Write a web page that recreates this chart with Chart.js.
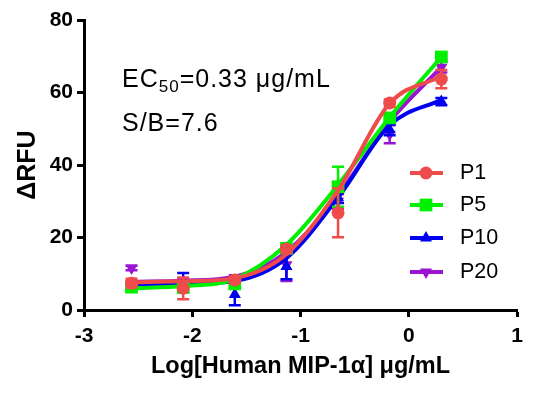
<!DOCTYPE html>
<html>
<head>
<meta charset="utf-8">
<script src="https://cdn.jsdelivr.net/npm/chart.js@4/dist/chart.umd.min.js"></script>
<style>
  html, body { margin: 0; background: #fff; }
  #wrap { width: 540px; height: 395px; }
</style>
</head>
<body>
<div id="wrap"><canvas id="chart" width="540" height="395"></canvas></div>
<script>
// log10 of the 3-fold dilution series (µg/mL), 2 µg/mL down
const logDose = [-2.561, -2.084, -1.607, -1.130, -0.653, -0.176, 0.301];

// measured means and error bars
const p1 = [7.4, 6.0, 8.3, 16.8, 26.8, 57.1, 63.7];
const p1Err = [1.2, 3.0, 0.8, 1.0, 6.7, 1.0, 2.5];
const p5 = [6.3, 6.2, 7.2, 17.0, 34.0, 53.0, 69.8];
const p5Err = [0.6, 1.0, 1.2, 1.0, 5.5, 1.0, 1.0];
const p10 = [7.2, 7.6, 4.3, 12.0, 31.0, 49.7, 57.5];
const p10Err = [0.6, 2.6, 3.0, 3.5, 1.5, 1.5, 1.0];
const p20 = [11.6, 7.6, 8.6, 12.5, 30.0, 48.5, 67.0];
const p20Err = [0.6, 1.0, 1.0, 4.5, 2.0, 2.5, 1.5];

// fitted curves at each dose
const fitP1 = [7.6, 7.9, 8.8, 15.4, 33.0, 57.0, 64.5];
const fitP5 = [6.0, 6.6, 8.6, 18.0, 34.5, 53.2, 69.8];
const fitP10 = [7.0, 7.2, 8.0, 14.3, 31.0, 51.0, 58.0];
const fitP20 = [7.8, 8.1, 9.2, 16.0, 31.7, 52.0, 67.0];

const seriesLabels = ["P1", "P5", "P10", "P20"];
const xTicks = [-3, -2, -1, 0, 1];
const yTicks = [0, 20, 40, 60, 80];

const styles = [
  { color: "#ef4b4b", pointStyle: "circle", radius: 6.5, rotation: 0 },
  { color: "#00f000", pointStyle: "rect", radius: 9, rotation: 0 },
  { color: "#0000f0", pointStyle: "triangle", radius: 7, rotation: 0 },
  { color: "#9a14d2", pointStyle: "triangle", radius: 7, rotation: 180 }
];

const allValues = [p1, p5, p10, p20];
const allErrors = [p1Err, p5Err, p10Err, p20Err];
const allFits = [fitP1, fitP5, fitP10, fitP20];

const datasets = [];
allValues.forEach((vals, i) => {
  datasets.push({
    label: seriesLabels[i] + " fit",
    type: "line",
    data: allFits[i].map((v, j) => ({ x: logDose[j], y: v })),
    borderColor: styles[i].color,
    borderWidth: 4,
    pointRadius: 0,
    cubicInterpolationMode: "monotone",
    fill: false,
    order: i * 2 + 1
  });
  datasets.push({
    label: seriesLabels[i],
    type: "scatter",
    data: vals.map((v, j) => ({ x: logDose[j], y: v })),
    errors: allErrors[i],
    borderColor: styles[i].color,
    backgroundColor: styles[i].color,
    pointStyle: styles[i].pointStyle,
    pointRadius: styles[i].radius,
    pointRotation: styles[i].rotation,
    pointBorderWidth: 0,
    showLine: false,
    order: i * 2
  });
});

// error bars, drawn just under each series' markers
const errorBars = {
  id: "errorBars",
  beforeDatasetDraw(chart, args) {
    const ds = chart.data.datasets[args.index];
    if (!ds.errors) return;
    const yScale = chart.scales.y;
    const ctx = chart.ctx;
    ctx.save();
    ctx.strokeStyle = ds.borderColor;
    ctx.lineWidth = 2.5;
    args.meta.data.forEach((pt, j) => {
      const v = ds.data[j].y;
      const e = ds.errors[j];
      const top = yScale.getPixelForValue(v + e);
      const bot = yScale.getPixelForValue(v - e);
      ctx.beginPath();
      ctx.moveTo(pt.x, top);
      ctx.lineTo(pt.x, bot);
      ctx.moveTo(pt.x - 6, top);
      ctx.lineTo(pt.x + 6, top);
      ctx.moveTo(pt.x - 6, bot);
      ctx.lineTo(pt.x + 6, bot);
      ctx.stroke();
    });
    ctx.restore();
  }
};

const FONT = "'Liberation Sans', Arial, sans-serif";

// axis titles, annotation text and legend
const extras = {
  id: "extras",
  afterDraw(chart) {
    const ctx = chart.ctx;
    const area = chart.chartArea;
    ctx.save();
    ctx.fillStyle = "#000";

    ctx.font = "bold 23.5px " + FONT;
    ctx.textAlign = "center";
    ctx.textBaseline = "middle";
    ctx.fillText("Log[Human MIP-1α] μg/mL", (area.left + area.right) / 2, 367);

    ctx.save();
    ctx.translate(28, (area.top + area.bottom) / 2);
    ctx.rotate(-Math.PI / 2);
    ctx.font = "bold 25px " + FONT;
    ctx.fillText("ΔRFU", 0, 0);
    ctx.restore();

    ctx.textAlign = "left";
    ctx.textBaseline = "alphabetic";
    ctx.letterSpacing = "1px";
    ctx.font = "25px " + FONT;
    let x = 122;
    ctx.fillText("EC", x, 87);
    x += ctx.measureText("EC").width;
    ctx.font = "17px " + FONT;
    ctx.fillText("50", x, 92);
    x += ctx.measureText("50").width;
    ctx.font = "25px " + FONT;
    ctx.fillText("=0.33 μg/mL", x, 87);
    ctx.fillText("S/B=7.6", 122, 131);
    ctx.letterSpacing = "0px";

    const legendY = [173, 205, 238, 272];
    ctx.font = "21.5px " + FONT;
    ctx.textBaseline = "middle";
    seriesLabels.forEach((label, i) => {
      const y = legendY[i];
      const st = styles[i];
      ctx.strokeStyle = st.color;
      ctx.fillStyle = st.color;
      ctx.lineWidth = 4;
      ctx.beginPath();
      ctx.moveTo(410, y);
      ctx.lineTo(443, y);
      ctx.stroke();
      Chart.helpers.drawPoint(ctx, {
        pointStyle: st.pointStyle,
        radius: st.radius,
        rotation: st.rotation,
        borderWidth: 0
      }, 426, y);
      ctx.fillStyle = "#000";
      ctx.fillText(label, 460, y);
    });
    ctx.restore();
  }
};

const axisGrid = {
  display: true,
  drawOnChartArea: false,
  drawTicks: true,
  tickLength: 7,
  tickWidth: 3,
  tickColor: "#000"
};
const axisBorder = { display: true, color: "#000", width: 3 };
const tickFont = { family: FONT, size: 21, weight: "bold" };

new Chart(document.getElementById("chart"), {
  type: "scatter",
  data: { datasets },
  options: {
    responsive: false,
    devicePixelRatio: 1,
    animation: false,
    layout: { padding: { top: 20, right: 23, left: 0, bottom: 0 } },
    plugins: {
      legend: { display: false },
      tooltip: { enabled: false }
    },
    scales: {
      x: {
        type: "linear",
        min: xTicks[0],
        max: xTicks[xTicks.length - 1],
        afterBuildTicks: (s) => { s.ticks = xTicks.map((v) => ({ value: v })); },
        afterFit: (s) => { s.height = 85; },
        ticks: { color: "#000", font: tickFont, padding: 7 },
        grid: axisGrid,
        border: axisBorder
      },
      y: {
        type: "linear",
        min: yTicks[0],
        max: yTicks[yTicks.length - 1],
        afterBuildTicks: (s) => { s.ticks = yTicks.map((v) => ({ value: v })); },
        afterFit: (s) => { s.width = 84; },
        ticks: { color: "#000", font: tickFont, padding: 4 },
        grid: axisGrid,
        border: axisBorder
      }
    }
  },
  plugins: [errorBars, extras]
});
</script>
</body>
</html>
